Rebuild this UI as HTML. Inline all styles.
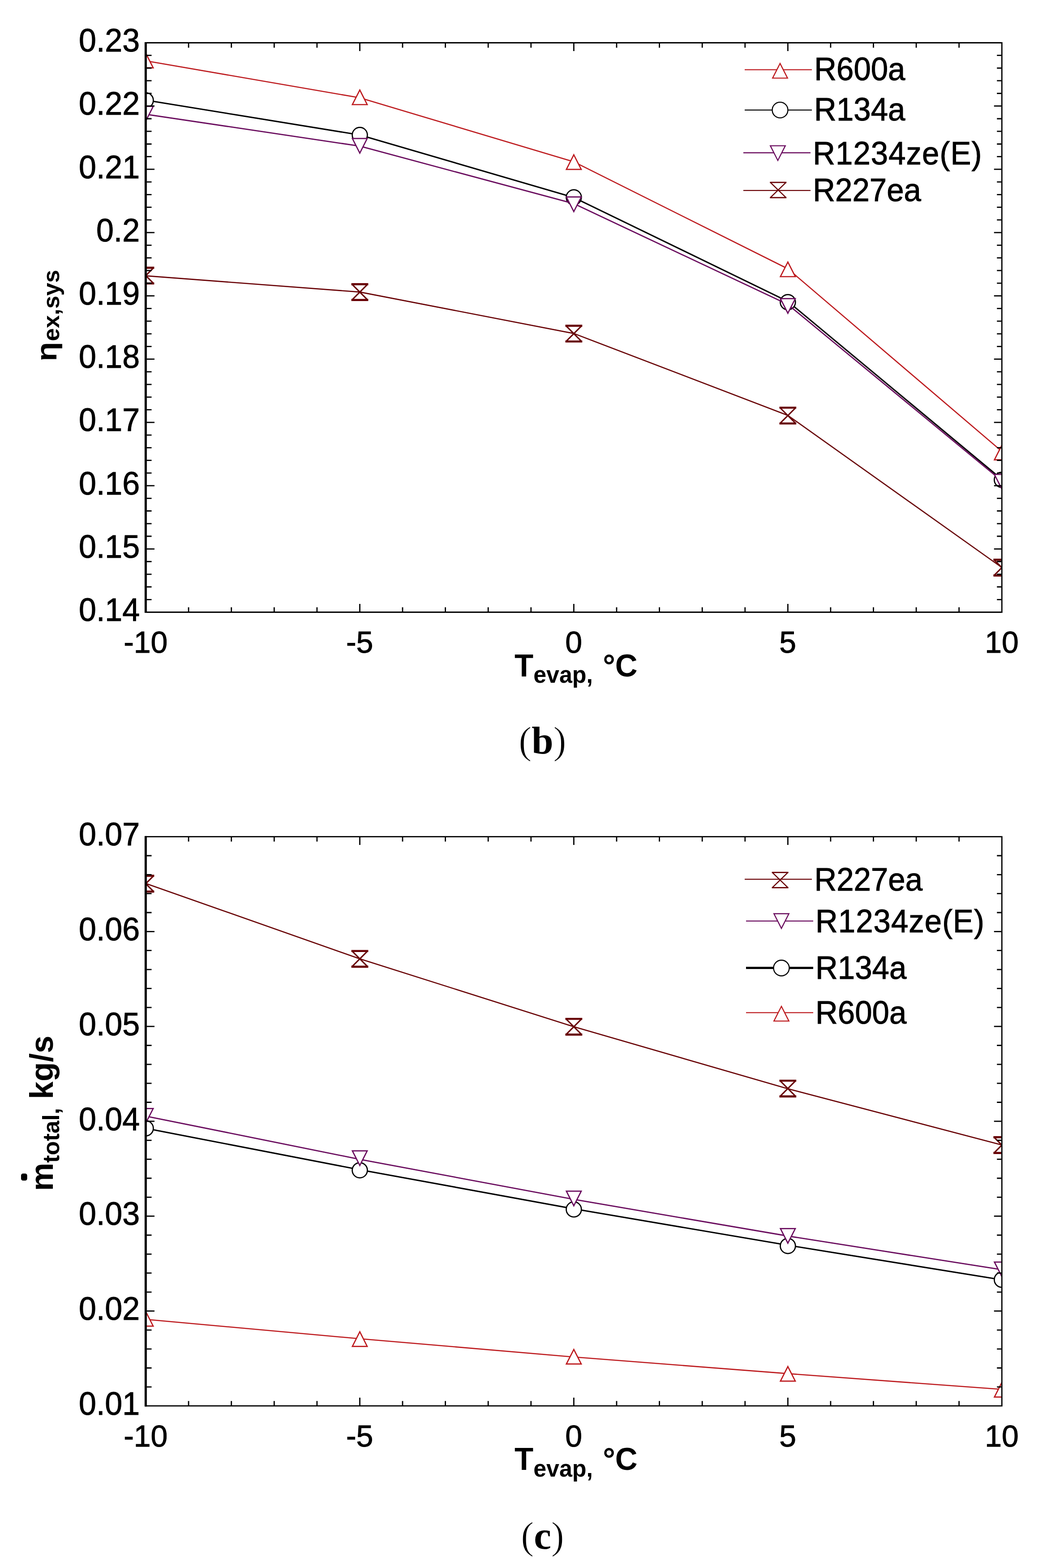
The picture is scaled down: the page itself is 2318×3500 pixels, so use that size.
<!DOCTYPE html>
<html><head><meta charset="utf-8"><title>Chart</title>
<style>
html,body{margin:0;padding:0;background:#fff;}
svg{display:block;}
text{font-family:"Liberation Sans",Arial,sans-serif;fill:#000;}
.tl{font-size:70px;stroke:#000;stroke-width:1.0px;}
.xl{font-size:68px;stroke:#000;stroke-width:1.0px;}
.lg{font-size:69px;stroke:#000;stroke-width:1.0px;}
.at{font-size:69px;font-weight:bold;}
.at2{font-size:72px;font-weight:bold;}
.sub{font-size:52px;}
.cap{font-family:"Liberation Serif","Times New Roman",serif;font-size:87px;}
.pr{stroke:#fff;stroke-width:1.2px;}
</style></head>
<body>
<svg width="2318" height="3500" viewBox="0 0 2318 3500">
<rect width="2318" height="3500" fill="#fff"/>
<defs><clipPath id="c1"><rect x="325.5" y="95.5" width="1911.8000000000002" height="1271.0"/></clipPath><clipPath id="c2"><rect x="325.5" y="1867.6" width="1911.8000000000002" height="1270.6"/></clipPath></defs>
<g clip-path="url(#c1)"><polyline points="325.5,135.8 803.5,218.3 1281.4,361.1 1759.4,600.0 2237.3,1007.6" fill="none" stroke="#bd1a1e" stroke-width="2.6" stroke-linejoin="round"/>
<path d="M325.5,118.7 L342.1,151.3 L308.9,151.3 Z" fill="#fff" stroke="#bd1a1e" stroke-width="2.7"/>
<path d="M803.5,200.9 L820.0,233.5 L786.9,233.5 Z" fill="#fff" stroke="#bd1a1e" stroke-width="2.7"/>
<path d="M1281.4,345.5 L1298.0,378.1 L1264.8,378.1 Z" fill="#fff" stroke="#bd1a1e" stroke-width="2.7"/>
<path d="M1759.4,584.9 L1776.0,617.5 L1742.8,617.5 Z" fill="#fff" stroke="#bd1a1e" stroke-width="2.7"/>
<path d="M2237.3,993.7 L2253.9,1026.3 L2220.7,1026.3 Z" fill="#fff" stroke="#bd1a1e" stroke-width="2.7"/>
<polyline points="325.5,223.5 803.5,301.3 1281.4,440.8 1759.4,672.8 2237.3,1070.0" fill="none" stroke="#000000" stroke-width="3.1" stroke-linejoin="round"/>
<circle cx="325.5" cy="223.9" r="16.9" fill="#fff" stroke="#000000" stroke-width="2.7"/>
<circle cx="803.5" cy="301.3" r="16.9" fill="#fff" stroke="#000000" stroke-width="2.7"/>
<circle cx="1281.4" cy="440.6" r="16.9" fill="#fff" stroke="#000000" stroke-width="2.7"/>
<circle cx="1759.4" cy="674.5" r="16.9" fill="#fff" stroke="#000000" stroke-width="2.7"/>
<circle cx="2237.3" cy="1071.0" r="16.9" fill="#fff" stroke="#000000" stroke-width="2.7"/>
<polyline points="325.5,255.0 803.5,326.2 1281.4,454.6 1759.4,679.6 2237.3,1073.5" fill="none" stroke="#6a0c5e" stroke-width="2.8" stroke-linejoin="round"/>
<path d="M308.9,237.5 L342.1,237.5 L325.5,270.1 Z" fill="#fff" stroke="#6a0c5e" stroke-width="2.7"/>
<path d="M786.9,309.2 L820.0,309.2 L803.5,341.8 Z" fill="#fff" stroke="#6a0c5e" stroke-width="2.7"/>
<path d="M1264.8,439.7 L1298.0,439.7 L1281.4,472.3 Z" fill="#fff" stroke="#6a0c5e" stroke-width="2.7"/>
<path d="M1742.8,666.6 L1776.0,666.6 L1759.4,699.2 Z" fill="#fff" stroke="#6a0c5e" stroke-width="2.7"/>
<path d="M2220.7,1059.0 L2253.9,1059.0 L2237.3,1091.6 Z" fill="#fff" stroke="#6a0c5e" stroke-width="2.7"/>
<polyline points="325.5,615.6 803.5,651.9 1281.4,744.4 1759.4,927.2 2237.3,1266.8" fill="none" stroke="#680004" stroke-width="2.6" stroke-linejoin="round"/>
<path d="M307.9,597.6 L343.1,632.8 M343.1,597.6 L307.9,632.8" fill="none" stroke="#680004" stroke-width="3.1"/><path d="M306.6,597.6 H344.4 M306.6,632.8 H344.4" stroke="#680004" stroke-width="4.6" fill="none"/>
<path d="M785.9,634.4 L821.1,669.6 M821.1,634.4 L785.9,669.6" fill="none" stroke="#680004" stroke-width="3.1"/><path d="M784.6,634.4 H822.4 M784.6,669.6 H822.4" stroke="#680004" stroke-width="4.6" fill="none"/>
<path d="M1263.8,727.1 L1299.0,762.3 M1299.0,727.1 L1263.8,762.3" fill="none" stroke="#680004" stroke-width="3.1"/><path d="M1262.5,727.1 H1300.3 M1262.5,762.3 H1300.3" stroke="#680004" stroke-width="4.6" fill="none"/>
<path d="M1741.8,910.0 L1777.0,945.2 M1777.0,910.0 L1741.8,945.2" fill="none" stroke="#680004" stroke-width="3.1"/><path d="M1740.5,910.0 H1778.2 M1740.5,945.2 H1778.2" stroke="#680004" stroke-width="4.6" fill="none"/>
<path d="M2219.7,1249.4 L2254.9,1284.6 M2254.9,1249.4 L2219.7,1284.6" fill="none" stroke="#680004" stroke-width="3.1"/><path d="M2218.4,1249.4 H2256.2 M2218.4,1284.6 H2256.2" stroke="#680004" stroke-width="4.6" fill="none"/></g>
<path d="M325.5,95.5 H2237.3 V1366.5 H325.5" fill="none" stroke="#000" stroke-width="2.8" stroke-linejoin="miter" stroke-linecap="square"/>
<rect x="322.9" y="94.1" width="5" height="1273.8" fill="#000"/>
<path d="M421.1,1366.5 v-11 M421.1,95.5 v11 M516.7,1366.5 v-11 M516.7,95.5 v11 M612.3,1366.5 v-11 M612.3,95.5 v11 M707.9,1366.5 v-11 M707.9,95.5 v11 M803.5,1366.5 v-18.5 M803.5,95.5 v18.5 M899.0,1366.5 v-11 M899.0,95.5 v11 M994.6,1366.5 v-11 M994.6,95.5 v11 M1090.2,1366.5 v-11 M1090.2,95.5 v11 M1185.8,1366.5 v-11 M1185.8,95.5 v11 M1281.4,1366.5 v-18.5 M1281.4,95.5 v18.5 M1377.0,1366.5 v-11 M1377.0,95.5 v11 M1472.6,1366.5 v-11 M1472.6,95.5 v11 M1568.2,1366.5 v-11 M1568.2,95.5 v11 M1663.8,1366.5 v-11 M1663.8,95.5 v11 M1759.4,1366.5 v-18.5 M1759.4,95.5 v18.5 M1854.9,1366.5 v-11 M1854.9,95.5 v11 M1950.5,1366.5 v-11 M1950.5,95.5 v11 M2046.1,1366.5 v-11 M2046.1,95.5 v11 M2141.7,1366.5 v-11 M2141.7,95.5 v11 M327.5,1338.3 h11 M2237.3,1338.3 h-11 M327.5,1310.0 h11 M2237.3,1310.0 h-11 M327.5,1281.8 h11 M2237.3,1281.8 h-11 M327.5,1253.5 h11 M2237.3,1253.5 h-11 M327.5,1225.3 h17.5 M2237.3,1225.3 h-17.5 M327.5,1197.0 h11 M2237.3,1197.0 h-11 M327.5,1168.8 h11 M2237.3,1168.8 h-11 M327.5,1140.5 h11 M2237.3,1140.5 h-11 M327.5,1112.3 h11 M2237.3,1112.3 h-11 M327.5,1084.1 h17.5 M2237.3,1084.1 h-17.5 M327.5,1055.8 h11 M2237.3,1055.8 h-11 M327.5,1027.6 h11 M2237.3,1027.6 h-11 M327.5,999.3 h11 M2237.3,999.3 h-11 M327.5,971.1 h11 M2237.3,971.1 h-11 M327.5,942.8 h17.5 M2237.3,942.8 h-17.5 M327.5,914.6 h11 M2237.3,914.6 h-11 M327.5,886.3 h11 M2237.3,886.3 h-11 M327.5,858.1 h11 M2237.3,858.1 h-11 M327.5,829.9 h11 M2237.3,829.9 h-11 M327.5,801.6 h17.5 M2237.3,801.6 h-17.5 M327.5,773.4 h11 M2237.3,773.4 h-11 M327.5,745.1 h11 M2237.3,745.1 h-11 M327.5,716.9 h11 M2237.3,716.9 h-11 M327.5,688.6 h11 M2237.3,688.6 h-11 M327.5,660.4 h17.5 M2237.3,660.4 h-17.5 M327.5,632.1 h11 M2237.3,632.1 h-11 M327.5,603.9 h11 M2237.3,603.9 h-11 M327.5,575.7 h11 M2237.3,575.7 h-11 M327.5,547.4 h11 M2237.3,547.4 h-11 M327.5,519.2 h17.5 M2237.3,519.2 h-17.5 M327.5,490.9 h11 M2237.3,490.9 h-11 M327.5,462.7 h11 M2237.3,462.7 h-11 M327.5,434.4 h11 M2237.3,434.4 h-11 M327.5,406.2 h11 M2237.3,406.2 h-11 M327.5,377.9 h17.5 M2237.3,377.9 h-17.5 M327.5,349.7 h11 M2237.3,349.7 h-11 M327.5,321.5 h11 M2237.3,321.5 h-11 M327.5,293.2 h11 M2237.3,293.2 h-11 M327.5,265.0 h11 M2237.3,265.0 h-11 M327.5,236.7 h17.5 M2237.3,236.7 h-17.5 M327.5,208.5 h11 M2237.3,208.5 h-11 M327.5,180.2 h11 M2237.3,180.2 h-11 M327.5,152.0 h11 M2237.3,152.0 h-11 M327.5,123.7 h11 M2237.3,123.7 h-11" stroke="#000" stroke-width="2.8" fill="none"/>
<text transform="translate(312.2,115.1) scale(1,1.042)" class="tl" text-anchor="end">0.23</text>
<text transform="translate(312.2,256.3) scale(1,1.042)" class="tl" text-anchor="end">0.22</text>
<text transform="translate(312.2,397.5) scale(1,1.042)" class="tl" text-anchor="end">0.21</text>
<text transform="translate(312.2,538.8) scale(1,1.042)" class="tl" text-anchor="end">0.2</text>
<text transform="translate(312.2,680.0) scale(1,1.042)" class="tl" text-anchor="end">0.19</text>
<text transform="translate(312.2,821.2) scale(1,1.042)" class="tl" text-anchor="end">0.18</text>
<text transform="translate(312.2,962.4) scale(1,1.042)" class="tl" text-anchor="end">0.17</text>
<text transform="translate(312.2,1103.7) scale(1,1.042)" class="tl" text-anchor="end">0.16</text>
<text transform="translate(312.2,1244.9) scale(1,1.042)" class="tl" text-anchor="end">0.15</text>
<text transform="translate(312.2,1386.1) scale(1,1.042)" class="tl" text-anchor="end">0.14</text>
<text transform="translate(325.3,1457.3) scale(1,1.02)" class="xl" text-anchor="middle">-10</text>
<text transform="translate(803.2,1457.3) scale(1,1.02)" class="xl" text-anchor="middle">-5</text>
<text transform="translate(1281.2,1457.3) scale(1,1.02)" class="xl" text-anchor="middle">0</text>
<text transform="translate(1759.2,1457.3) scale(1,1.02)" class="xl" text-anchor="middle">5</text>
<text transform="translate(2237.1,1457.3) scale(1,1.02)" class="xl" text-anchor="middle">10</text>
<line x1="1663" y1="155.6" x2="1813" y2="155.6" stroke="#bd1a1e" stroke-width="2.3"/>
<path d="M1742.0,141.6 L1758.7,174.4 L1725.3,174.4 Z" fill="#fff" stroke="#bd1a1e" stroke-width="2.4"/>
<text transform="translate(1818.2,178.6) scale(1,1.055)" class="lg">R600a</text>
<line x1="1663" y1="245.6" x2="1813" y2="245.6" stroke="#000000" stroke-width="2.3"/>
<circle cx="1742.0" cy="245.6" r="17.5" fill="#fff" stroke="#000000" stroke-width="2.4"/>
<text transform="translate(1818.1,268.9) scale(1,1.055)" class="lg">R134a</text>
<line x1="1660" y1="341.0" x2="1810" y2="341.0" stroke="#6a0c5e" stroke-width="2.3"/>
<path d="M1720.3,325.4 L1753.7,325.4 L1737.0,358.2 Z" fill="#fff" stroke="#6a0c5e" stroke-width="2.4"/>
<text transform="translate(1815.3,366.8) scale(1,1.055)" class="lg" letter-spacing="1">R1234ze(E)</text>
<line x1="1660" y1="425.1" x2="1810" y2="425.1" stroke="#680004" stroke-width="2.3"/>
<path d="M1720.3,407.2 L1755.3,441.2 M1755.3,407.2 L1720.3,441.2" fill="none" stroke="#680004" stroke-width="2.4"/><path d="M1719.3,407.2 H1756.3 M1719.3,441.2 H1756.3" stroke="#680004" stroke-width="2.8" fill="none"/>
<text transform="translate(1815.3,448.6) scale(1,1.055)" class="lg">R227ea</text>
<g clip-path="url(#c2)"><polyline points="325.5,2945.0 803.5,2988.3 1281.4,3029.0 1759.4,3066.1 2237.3,3101.3" fill="none" stroke="#bd1a1e" stroke-width="2.6" stroke-linejoin="round"/>
<path d="M325.5,2927.6 L342.1,2960.2 L308.9,2960.2 Z" fill="#fff" stroke="#bd1a1e" stroke-width="2.7"/>
<path d="M803.5,2972.7 L820.0,3005.3 L786.9,3005.3 Z" fill="#fff" stroke="#bd1a1e" stroke-width="2.7"/>
<path d="M1281.4,3012.1 L1298.0,3044.7 L1264.8,3044.7 Z" fill="#fff" stroke="#bd1a1e" stroke-width="2.7"/>
<path d="M1759.4,3050.3 L1776.0,3082.9 L1742.8,3082.9 Z" fill="#fff" stroke="#bd1a1e" stroke-width="2.7"/>
<path d="M2237.3,3085.7 L2253.9,3118.3 L2220.7,3118.3 Z" fill="#fff" stroke="#bd1a1e" stroke-width="2.7"/>
<polyline points="325.5,2518.6 803.5,2611.0 1281.4,2698.3 1759.4,2779.5 2237.3,2856.8" fill="none" stroke="#000000" stroke-width="3.1" stroke-linejoin="round"/>
<circle cx="325.5" cy="2518.6" r="16.9" fill="#fff" stroke="#000000" stroke-width="2.7"/>
<circle cx="803.5" cy="2612.2" r="16.9" fill="#fff" stroke="#000000" stroke-width="2.7"/>
<circle cx="1281.4" cy="2699.6" r="16.9" fill="#fff" stroke="#000000" stroke-width="2.7"/>
<circle cx="1759.4" cy="2781.2" r="16.9" fill="#fff" stroke="#000000" stroke-width="2.7"/>
<circle cx="2237.3" cy="2856.5" r="16.9" fill="#fff" stroke="#000000" stroke-width="2.7"/>
<polyline points="325.5,2491.3 803.5,2587.8 1281.4,2677.2 1759.4,2759.0 2237.3,2834.2" fill="none" stroke="#6a0c5e" stroke-width="2.8" stroke-linejoin="round"/>
<path d="M308.9,2474.4 L342.1,2474.4 L325.5,2507.0 Z" fill="#fff" stroke="#6a0c5e" stroke-width="2.7"/>
<path d="M786.9,2568.8 L820.0,2568.8 L803.5,2601.4 Z" fill="#fff" stroke="#6a0c5e" stroke-width="2.7"/>
<path d="M1264.8,2658.8 L1298.0,2658.8 L1281.4,2691.4 Z" fill="#fff" stroke="#6a0c5e" stroke-width="2.7"/>
<path d="M1742.8,2742.3 L1776.0,2742.3 L1759.4,2774.9 Z" fill="#fff" stroke="#6a0c5e" stroke-width="2.7"/>
<path d="M2220.7,2817.1 L2253.9,2817.1 L2237.3,2849.7 Z" fill="#fff" stroke="#6a0c5e" stroke-width="2.7"/>
<polyline points="325.5,1972.0 803.5,2140.2 1281.4,2291.8 1759.4,2430.2 2237.3,2555.8" fill="none" stroke="#680004" stroke-width="2.6" stroke-linejoin="round"/>
<path d="M307.9,1954.9 L343.1,1990.1 M343.1,1954.9 L307.9,1990.1" fill="none" stroke="#680004" stroke-width="3.1"/><path d="M306.6,1954.9 H344.4 M306.6,1990.1 H344.4" stroke="#680004" stroke-width="4.6" fill="none"/>
<path d="M785.9,2122.7 L821.1,2157.9 M821.1,2122.7 L785.9,2157.9" fill="none" stroke="#680004" stroke-width="3.1"/><path d="M784.6,2122.7 H822.4 M784.6,2157.9 H822.4" stroke="#680004" stroke-width="4.6" fill="none"/>
<path d="M1263.8,2274.2 L1299.0,2309.4 M1299.0,2274.2 L1263.8,2309.4" fill="none" stroke="#680004" stroke-width="3.1"/><path d="M1262.5,2274.2 H1300.3 M1262.5,2309.4 H1300.3" stroke="#680004" stroke-width="4.6" fill="none"/>
<path d="M1741.8,2412.2 L1777.0,2447.4 M1777.0,2412.2 L1741.8,2447.4" fill="none" stroke="#680004" stroke-width="3.1"/><path d="M1740.5,2412.2 H1778.2 M1740.5,2447.4 H1778.2" stroke="#680004" stroke-width="4.6" fill="none"/>
<path d="M2219.7,2538.4 L2254.9,2573.6 M2254.9,2538.4 L2219.7,2573.6" fill="none" stroke="#680004" stroke-width="3.1"/><path d="M2218.4,2538.4 H2256.2 M2218.4,2573.6 H2256.2" stroke="#680004" stroke-width="4.6" fill="none"/></g>
<path d="M325.5,1867.6 H2237.3 V3138.2 H325.5" fill="none" stroke="#000" stroke-width="2.8" stroke-linejoin="miter" stroke-linecap="square"/>
<rect x="322.9" y="1866.2" width="5" height="1273.4" fill="#000"/>
<path d="M421.1,3138.2 v-11 M421.1,1867.6 v11 M516.7,3138.2 v-11 M516.7,1867.6 v11 M612.3,3138.2 v-11 M612.3,1867.6 v11 M707.9,3138.2 v-11 M707.9,1867.6 v11 M803.5,3138.2 v-18.5 M803.5,1867.6 v18.5 M899.0,3138.2 v-11 M899.0,1867.6 v11 M994.6,3138.2 v-11 M994.6,1867.6 v11 M1090.2,3138.2 v-11 M1090.2,1867.6 v11 M1185.8,3138.2 v-11 M1185.8,1867.6 v11 M1281.4,3138.2 v-18.5 M1281.4,1867.6 v18.5 M1377.0,3138.2 v-11 M1377.0,1867.6 v11 M1472.6,3138.2 v-11 M1472.6,1867.6 v11 M1568.2,3138.2 v-11 M1568.2,1867.6 v11 M1663.8,3138.2 v-11 M1663.8,1867.6 v11 M1759.4,3138.2 v-18.5 M1759.4,1867.6 v18.5 M1854.9,3138.2 v-11 M1854.9,1867.6 v11 M1950.5,3138.2 v-11 M1950.5,1867.6 v11 M2046.1,3138.2 v-11 M2046.1,1867.6 v11 M2141.7,3138.2 v-11 M2141.7,1867.6 v11 M327.5,3095.8 h11 M2237.3,3095.8 h-11 M327.5,3053.5 h11 M2237.3,3053.5 h-11 M327.5,3011.1 h11 M2237.3,3011.1 h-11 M327.5,2968.8 h11 M2237.3,2968.8 h-11 M327.5,2926.4 h17.5 M2237.3,2926.4 h-17.5 M327.5,2884.1 h11 M2237.3,2884.1 h-11 M327.5,2841.7 h11 M2237.3,2841.7 h-11 M327.5,2799.4 h11 M2237.3,2799.4 h-11 M327.5,2757.0 h11 M2237.3,2757.0 h-11 M327.5,2714.7 h17.5 M2237.3,2714.7 h-17.5 M327.5,2672.3 h11 M2237.3,2672.3 h-11 M327.5,2630.0 h11 M2237.3,2630.0 h-11 M327.5,2587.6 h11 M2237.3,2587.6 h-11 M327.5,2545.3 h11 M2237.3,2545.3 h-11 M327.5,2502.9 h17.5 M2237.3,2502.9 h-17.5 M327.5,2460.5 h11 M2237.3,2460.5 h-11 M327.5,2418.2 h11 M2237.3,2418.2 h-11 M327.5,2375.8 h11 M2237.3,2375.8 h-11 M327.5,2333.5 h11 M2237.3,2333.5 h-11 M327.5,2291.1 h17.5 M2237.3,2291.1 h-17.5 M327.5,2248.8 h11 M2237.3,2248.8 h-11 M327.5,2206.4 h11 M2237.3,2206.4 h-11 M327.5,2164.1 h11 M2237.3,2164.1 h-11 M327.5,2121.7 h11 M2237.3,2121.7 h-11 M327.5,2079.4 h17.5 M2237.3,2079.4 h-17.5 M327.5,2037.0 h11 M2237.3,2037.0 h-11 M327.5,1994.7 h11 M2237.3,1994.7 h-11 M327.5,1952.3 h11 M2237.3,1952.3 h-11 M327.5,1910.0 h11 M2237.3,1910.0 h-11" stroke="#000" stroke-width="2.8" fill="none"/>
<text transform="translate(312.2,1887.2) scale(1,1.042)" class="tl" text-anchor="end">0.07</text>
<text transform="translate(312.2,2099.0) scale(1,1.042)" class="tl" text-anchor="end">0.06</text>
<text transform="translate(312.2,2310.7) scale(1,1.042)" class="tl" text-anchor="end">0.05</text>
<text transform="translate(312.2,2522.5) scale(1,1.042)" class="tl" text-anchor="end">0.04</text>
<text transform="translate(312.2,2734.3) scale(1,1.042)" class="tl" text-anchor="end">0.03</text>
<text transform="translate(312.2,2946.0) scale(1,1.042)" class="tl" text-anchor="end">0.02</text>
<text transform="translate(312.2,3157.8) scale(1,1.042)" class="tl" text-anchor="end">0.01</text>
<text transform="translate(325.3,3229.0) scale(1,1.02)" class="xl" text-anchor="middle">-10</text>
<text transform="translate(803.2,3229.0) scale(1,1.02)" class="xl" text-anchor="middle">-5</text>
<text transform="translate(1281.2,3229.0) scale(1,1.02)" class="xl" text-anchor="middle">0</text>
<text transform="translate(1759.2,3229.0) scale(1,1.02)" class="xl" text-anchor="middle">5</text>
<text transform="translate(2237.1,3229.0) scale(1,1.02)" class="xl" text-anchor="middle">10</text>
<line x1="1663" y1="1962.7" x2="1813" y2="1962.7" stroke="#680004" stroke-width="2.3"/>
<path d="M1724.6,1947.4 L1759.6,1981.4 M1759.6,1947.4 L1724.6,1981.4" fill="none" stroke="#680004" stroke-width="2.4"/><path d="M1723.6,1947.4 H1760.6 M1723.6,1981.4 H1760.6" stroke="#680004" stroke-width="2.8" fill="none"/>
<text transform="translate(1818.4,1988.3) scale(1,1.055)" class="lg">R227ea</text>
<line x1="1666" y1="2055.8" x2="1816" y2="2055.8" stroke="#6a0c5e" stroke-width="2.3"/>
<path d="M1728.3,2039.5 L1761.7,2039.5 L1745.0,2072.3 Z" fill="#fff" stroke="#6a0c5e" stroke-width="2.4"/>
<text transform="translate(1821.0,2081.3) scale(1,1.055)" class="lg" letter-spacing="1">R1234ze(E)</text>
<line x1="1666" y1="2160.5" x2="1816" y2="2160.5" stroke="#000000" stroke-width="5.0"/>
<circle cx="1745.0" cy="2160.8" r="17.5" fill="#fff" stroke="#000000" stroke-width="2.4"/>
<text transform="translate(1821.0,2185.2) scale(1,1.055)" class="lg">R134a</text>
<line x1="1666" y1="2260.3" x2="1816" y2="2260.3" stroke="#bd1a1e" stroke-width="2.3"/>
<path d="M1745.0,2246.3 L1761.7,2279.1 L1728.3,2279.1 Z" fill="#fff" stroke="#bd1a1e" stroke-width="2.4"/>
<text transform="translate(1821.0,2285.2) scale(1,1.055)" class="lg">R600a</text>
<text transform="translate(1149,1509.7) scale(1,1.03)" class="at">T<tspan class="sub" dy="14">evap,</tspan><tspan dy="-14" dx="3"> °C</tspan></text>
<text transform="translate(1149,3281.4) scale(1,1.03)" class="at">T<tspan class="sub" dy="14">evap,</tspan><tspan dy="-14" dx="3"> °C</tspan></text>
<text transform="translate(126.2,806.5) rotate(-90) scale(1,0.93)" class="at" style="font-size:70.5px">η</text>
<text transform="translate(131.6,761.4) rotate(-90)" class="at sub">ex,sys</text>
<text transform="translate(118.1,2658.5) rotate(-90) scale(0.985,1.0)" class="at2">m<tspan class="sub" dy="13.7">total,</tspan><tspan dy="-13.7"> kg/s</tspan></text>
<rect x="47" y="2619.5" width="13.7" height="15.8" rx="4.5" fill="#000"/>
<text x="1211.4" y="1682.2" class="cap" text-anchor="middle"><tspan class="pr">(</tspan><tspan font-weight="bold">b</tspan><tspan class="pr">)</tspan></text>
<text x="1211.5" y="3457.2" class="cap" text-anchor="middle"><tspan class="pr">(</tspan><tspan font-weight="bold">c</tspan><tspan class="pr">)</tspan></text>
</svg>
</body></html>
